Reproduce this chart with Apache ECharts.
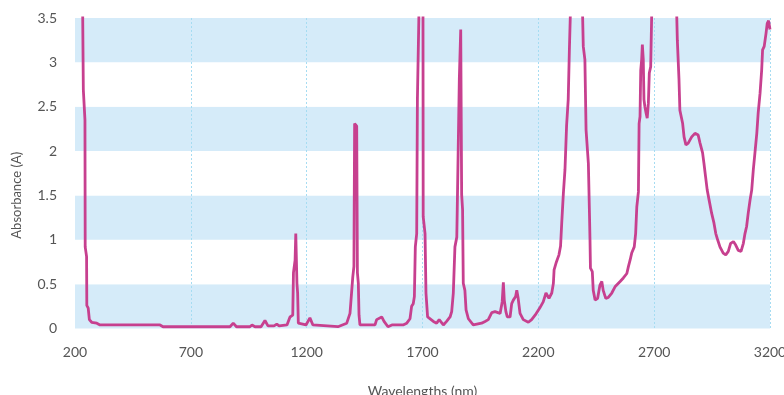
<!DOCTYPE html>
<html>
<head>
<meta charset="utf-8">
<script src="https://cdn.jsdelivr.net/npm/echarts@6/dist/echarts.min.js"></script>
<style>
    html, body { margin: 0; padding: 0; background: #fff; }
    #main { width: 784px; height: 395px; }
</style>
</head>
<body>
<div id="main"></div>
<script>
// wavelength (nm) of each sample
var wavelengths = [
    232, 236, 243, 244, 250, 251, 257, 262, 272, 294,
    308, 567, 580, 869, 883, 897, 955, 964, 977, 1003,
    1020, 1033, 1059, 1071, 1081, 1115, 1128, 1140, 1143, 1150,
    1153, 1157, 1158, 1161, 1164, 1171, 1197, 1214, 1227, 1335,
    1373, 1387, 1394, 1399, 1404, 1407, 1413, 1416, 1419, 1423,
    1426, 1430, 1495, 1502, 1524, 1534, 1551, 1568, 1616, 1632,
    1646, 1653, 1660, 1665, 1669, 1675, 1678, 1687, 1702, 1703,
    1711, 1715, 1722, 1747, 1761, 1772, 1790, 1804, 1819, 1826,
    1833, 1840, 1848, 1850, 1858, 1859, 1865, 1867, 1869, 1873,
    1876, 1883, 1888, 1898, 1919, 1927, 1955, 1970, 1984, 1999,
    2013, 2035, 2044, 2049, 2053, 2060, 2066, 2078, 2085, 2092,
    2102, 2107, 2113, 2121, 2135, 2157, 2171, 2186, 2206, 2221,
    2233, 2239, 2246, 2258, 2265, 2268, 2278, 2289, 2296, 2301,
    2308, 2315, 2322, 2329, 2334, 2342, 2388, 2394, 2401, 2406,
    2416, 2421, 2423, 2425, 2433, 2437, 2445, 2456, 2466, 2474,
    2480, 2491, 2502, 2517, 2531, 2553, 2567, 2582, 2589, 2596,
    2603, 2614, 2620, 2625, 2632, 2635, 2639, 2642, 2646, 2649,
    2653, 2656, 2660, 2665, 2670, 2675, 2679, 2685, 2692, 2794,
    2800, 2807, 2811, 2823, 2829, 2837, 2847, 2862, 2876, 2890,
    2898, 2909, 2915, 2922, 2929, 2937, 2948, 2958, 2966, 2974,
    2984, 2998, 3009, 3020, 3030, 3042, 3052, 3063, 3075, 3085,
    3092, 3099, 3106, 3114, 3121, 3128, 3135, 3143, 3149, 3157,
    3164, 3168, 3175, 3183, 3188, 3194, 3200
];

// absorbance (A) at each wavelength
var absorbance = [
    3.9, 2.69, 2.35, 0.92, 0.81, 0.26, 0.23, 0.10, 0.07, 0.06,
    0.04, 0.04, 0.02, 0.02, 0.06, 0.02, 0.02, 0.04, 0.02, 0.02,
    0.09, 0.03, 0.03, 0.05, 0.03, 0.04, 0.13, 0.15, 0.63, 0.77,
    1.07, 1.07, 0.51, 0.40, 0.06, 0.04, 0.04, 0.12, 0.04, 0.02,
    0.06, 0.17, 0.19, 0.58, 0.70, 2.31, 2.31, 2.28, 0.63, 0.51,
    0.15, 0.04, 0.04, 0.10, 0.13, 0.08, 0.02, 0.04, 0.04, 0.06,
    0.11, 0.25, 0.28, 0.36, 0.92, 1.07, 2.58, 3.9, 3.9, 1.26,
    1.07, 0.40, 0.13, 0.08, 0.06, 0.10, 0.04, 0.08, 0.13, 0.19,
    0.40, 0.92, 1.03, 1.34, 1.36, 2.82, 3.37, 3.37, 1.51, 1.34,
    0.51, 0.43, 0.21, 0.11, 0.04, 0.06, 0.06, 0.08, 0.10, 0.18,
    0.19, 0.17, 0.30, 0.52, 0.32, 0.19, 0.13, 0.13, 0.28, 0.32,
    0.36, 0.43, 0.34, 0.17, 0.10, 0.07, 0.10, 0.15, 0.23, 0.30,
    0.40, 0.41, 0.34, 0.40, 0.51, 0.66, 0.75, 0.83, 0.93, 1.19,
    1.52, 1.79, 2.29, 2.58, 3.14, 3.9, 3.9, 3.18, 3.03, 2.24,
    1.86, 1.26, 1.00, 0.68, 0.64, 0.43, 0.32, 0.34, 0.49, 0.53,
    0.43, 0.34, 0.35, 0.40, 0.47, 0.53, 0.57, 0.62, 0.70, 0.77,
    0.85, 0.92, 1.07, 1.37, 1.54, 2.31, 2.39, 2.91, 3.03, 3.20,
    3.03, 2.58, 2.50, 2.43, 2.37, 2.54, 2.88, 2.95, 3.9, 3.9,
    3.25, 2.82, 2.46, 2.31, 2.16, 2.07, 2.09, 2.16, 2.20, 2.18,
    2.09, 1.98, 1.86, 1.71, 1.56, 1.45, 1.30, 1.19, 1.07, 1.00,
    0.92, 0.85, 0.83, 0.87, 0.96, 0.98, 0.94, 0.88, 0.87, 0.96,
    1.07, 1.15, 1.30, 1.45, 1.56, 1.79, 1.98, 2.20, 2.43, 2.65,
    2.91, 3.14, 3.18, 3.33, 3.44, 3.47, 3.37
];

var points = [];
for (let i = 0; i < wavelengths.length; i++) {
    points.push([wavelengths[i], absorbance[i]]);
}

var myChart = echarts.init(document.getElementById('main'));

var option = {
    animation: false,
    textStyle: { fontFamily: 'Lato' },
    grid: { left: 75, right: 14, top: 18, bottom: 66.5, outerBoundsMode: 'none', containLabel: false },
    xAxis: {
        type: 'value',
        min: 200,
        max: 3200,
        interval: 500,
        name: 'Wavelengths (nm)',
        nameLocation: 'middle',
        nameGap: 56,
        nameTextStyle: { color: '#555', fontSize: 14, fontFamily: 'Lato' },
        axisLine: { show: false },
        axisTick: { show: false },
        axisLabel: {
            color: '#555', fontSize: 14, margin: 17, fontFamily: 'Lato',
            formatter: function (v) { return String(v); }
        },
        splitLine: {
            show: true,
            showMinLine: false,
            lineStyle: { color: '#a6dcf2', type: [2, 2], width: 1 }
        }
    },
    yAxis: {
        type: 'value',
        min: 0,
        max: 3.5,
        interval: 0.5,
        name: 'Absorbance (A)',
        nameLocation: 'middle',
        nameGap: 52,
        nameTextStyle: { color: '#555', fontSize: 13, fontFamily: 'Lato', padding: [0, 44, 0, 0] },
        axisLine: { show: false },
        axisTick: { show: false },
        axisLabel: { color: '#555', fontSize: 14, margin: 18, fontFamily: 'Lato' },
        splitLine: { show: false },
        splitArea: {
            show: true,
            areaStyle: { color: ['#d5ebf9', '#ffffff'] }
        }
    },
    series: [
        {
            type: 'line',
            data: points,
            showSymbol: false,
            clip: true,
            lineStyle: { color: '#c7408f', width: 2.8 },
            itemStyle: { color: '#c7408f' }
        }
    ]
};

myChart.setOption(option);
</script>
</body>
</html>
